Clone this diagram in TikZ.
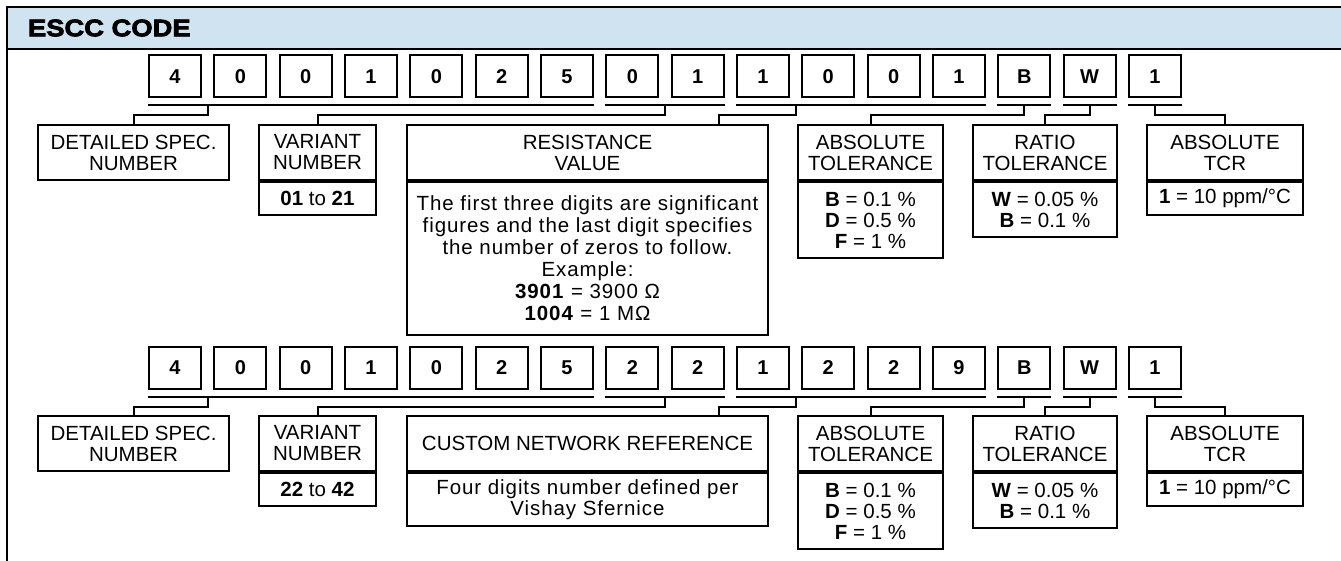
\documentclass[tikz,border=0pt]{standalone}
\usepackage{fontspec}
\setmainfont{Liberation Sans}
\newfontfamily\titlefont[BoldFeatures={FakeBold=3,FakeStretch=1.14}]{Liberation Sans}
\usetikzlibrary{calc}
\definecolor{headblue}{HTML}{CFE3F1}

\begin{document}
\begin{tikzpicture}[x=1pt,y=-1pt,line width=2pt,
  every node/.style={font=\fontsize{20.5}{21}\selectfont},
  digit/.style={draw,minimum width=52pt,minimum height=42pt,inner sep=0pt,font=\fontsize{20}{20}\selectfont\bfseries},
  field/.style={draw,inner sep=0pt,align=center,anchor=north},
  wide/.style={font=\fontsize{20.5}{#1}\selectfont\addfontfeature{LetterSpace=4.5}},
  link/.style={line width=2pt}]
\useasboundingbox (0,0) rectangle (1341,561);
% frame and title band
\fill[headblue] (7,7) rectangle (1341,49);
\draw (1341,7) -- (7,7) -- (7,561);
\draw (7,49) -- (1341,49);
\node[anchor=west,inner sep=0pt,font=\titlefont\bfseries\fontsize{24}{24}\selectfont] (title) at (27,28) {ESCC CODE};
% value fields
\node[field,minimum width=361pt,minimum height=55pt] (val1) at (587.5,124) {RESISTANCE\\VALUE};
\node[field,wide=22,minimum width=361pt,minimum height=153pt] (val1-b) at (val1.south) {The first three digits are significant\\figures and the last digit specifies\\the number of zeros to follow.\\Example:\\\textbf{3901} = 3900 Ω\\\textbf{1004} = 1 MΩ};
\node[field,minimum width=361pt,minimum height=55pt] (val2) at (587.5,415) {CUSTOM NETWORK REFERENCE};
\node[field,wide=21,minimum width=361pt,minimum height=53pt] (val2-b) at (val2.south) {Four digits number defined per\\Vishay Sfernice};
\foreach \r/\Y/\code/\lo/\hi in {1/0/{4,0,0,1,0,2,5,0,1,1,0,0,1,B,W,1}/01/21,
                                 2/291/{4,0,0,1,0,2,5,2,2,1,2,2,9,B,W,1}/22/42}{
  % code digits
  \foreach \c [count=\i] in \code
    \node[digit] (d\r-\i) at ({175+65.33*(\i-1)},76.5+\Y) {\c};
  % fields
  \node[field,minimum width=191pt,minimum height=55pt] (spec\r) at (133.5,124+\Y) {DETAILED SPEC.\\NUMBER};
  \node[field,minimum width=117pt,minimum height=55pt] (var\r) at (317.5,124+\Y) {VARIANT\\NUMBER};
  \node[field,minimum width=117pt,minimum height=33pt] (var\r-b) at (var\r.south) {\textbf{\lo} to \textbf{\hi}};
  \node[field,minimum width=145pt,minimum height=55pt] (abs\r) at (870.5,124+\Y) {ABSOLUTE\\TOLERANCE};
  \node[field,minimum width=145pt,minimum height=76pt] (abs\r-b) at (abs\r.south) {\textbf{B} = 0.1 \%\\\textbf{D} = 0.5 \%\\\textbf{F} = 1 \%};
  \node[field,minimum width=144pt,minimum height=55pt] (rat\r) at (1045,124+\Y) {RATIO\\TOLERANCE};
  \node[field,minimum width=144pt,minimum height=55pt] (rat\r-b) at (rat\r.south) {\textbf{W} = 0.05 \%\\\textbf{B} = 0.1 \%};
  \node[field,minimum width=156pt,minimum height=55pt] (tcr\r) at (1225,124+\Y) {ABSOLUTE\\TCR};
  \node[field,minimum width=156pt,minimum height=33pt] (tcr\r-b) at (tcr\r.south) {\textbf{1} = 10 ppm/°C};
  % group underlines
  \foreach \a/\b in {1/7,8/9,10/13,14/14,15/15,16/16}
    \draw[link] ([yshift=-7pt]d\r-\a.south west) -- ([yshift=-7pt]d\r-\b.south east);
  % links to the fields
  \draw[link] ($(d\r-1.south east)!.5!(d\r-2.south west)+(0,7)$) -- ++(0,10) -| (spec\r.north);
  \draw[link] ($(d\r-8.south east)!.5!(d\r-9.south west)+(0,7)$) -- ++(0,10) -| (var\r.north);
  \draw[link] ($(d\r-10.south east)!.5!(d\r-11.south west)+(0,7)$) -- ++(0,10) -| ([shift={(-50,0)}]val\r.north east);
  \draw[link] ([yshift=-7pt]d\r-14.south) -- ++(0,10) -| (abs\r.north);
  \draw[link] ([yshift=-7pt]d\r-15.south) -- ++(0,10) -| (rat\r.north);
  \draw[link] ([yshift=-7pt]d\r-16.south) -- ++(0,10) -| (tcr\r.north);
}
\end{tikzpicture}
\end{document}
